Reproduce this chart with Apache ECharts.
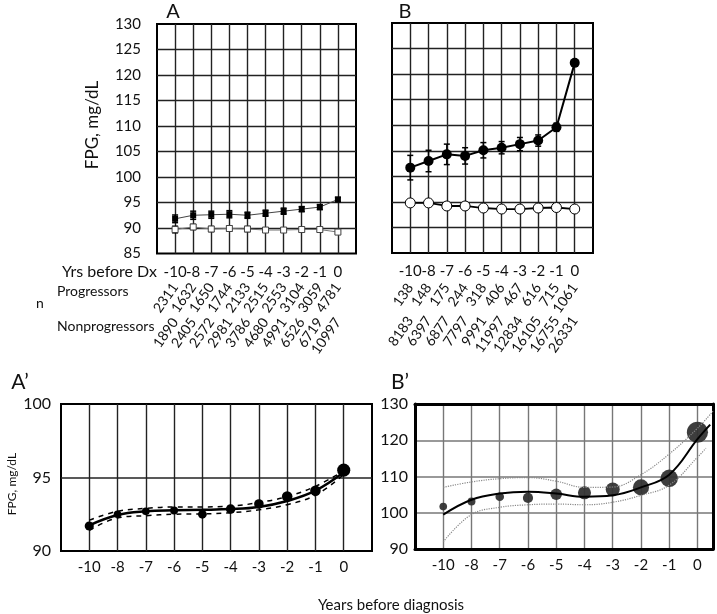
<!DOCTYPE html>
<html>
<head>
<meta charset="utf-8">
<script src="https://cdn.jsdelivr.net/npm/echarts@6/dist/echarts.min.js"></script>
<style>
  html, body { margin: 0; padding: 0; background: #fff; }
  #main { width: 717px; height: 614px; }
</style>
</head>
<body>
<div id="main"></div>
<script>
// categories (years before diagnosis)
var years = ['-10', '-8', '-7', '-6', '-5', '-4', '-3', '-2', '-1', '0'];

// panel A (all subjects)
var progA = [91.8, 92.5, 92.6, 92.7, 92.5, 92.9, 93.3, 93.7, 94.1, 95.6];
var progA_se = [0.75, 0.8, 0.7, 0.7, 0.6, 0.6, 0.6, 0.5, 0.5, 0.4];
var nonA = [89.7, 90.2, 89.8, 89.9, 89.8, 89.6, 89.6, 89.7, 89.7, 89.2];
var nonA_se = [0.65, 0.5, 0.5, 0.5, 0.5, 0.4, 0.4, 0.4, 0.4, 0.3];
var nProgA = [2311, 1632, 1650, 1744, 2133, 2515, 2553, 3104, 3059, 4781];
var nNonA = [1890, 2405, 2572, 2981, 3786, 4680, 4991, 6526, 6719, 10997];

// panel B
var progB = [101.7, 103.0, 104.3, 104.0, 105.1, 105.6, 106.3, 107.0, 109.6, 122.2];
var progB_se = [2.4, 2.1, 2.0, 1.6, 1.5, 1.2, 1.3, 1.1, 0.8, 0.6];
var nonB = [94.8, 94.8, 94.2, 94.2, 93.8, 93.6, 93.6, 93.8, 93.9, 93.6];
var nProgB = [138, 148, 175, 244, 318, 406, 467, 616, 715, 1061];
var nNonB = [8183, 6397, 6877, 7797, 9991, 11997, 12834, 16105, 16755, 26331];

// panel A' (points and fitted curve with band)
var ptsA2 = [91.7, 92.5, 92.7, 92.75, 92.5, 92.85, 93.2, 93.7, 94.1, 95.5];
var fitA2 = [91.75, 92.45, 92.7, 92.77, 92.8, 92.85, 93.0, 93.4, 94.1, 95.35];
var upA2 = [92.1, 92.7, 92.9, 93.0, 93.0, 93.05, 93.3, 93.7, 94.4, 95.45];
var loA2 = [91.4, 92.25, 92.4, 92.5, 92.52, 92.6, 92.8, 93.15, 93.8, 95.2];

// panel B' (curve read at each year, plus the piece past year 0)
var ptsB2 = [101.7, 103.1, 104.4, 104.1, 105.1, 105.5, 106.4, 107.0, 109.5, 122.2];
var fitB2 = [99.5, 103.6, 105.3, 105.8, 105.3, 104.4, 104.8, 107.0, 110.5, 120.3, 124.3];
var upB2 = [107.0, 108.5, 109.4, 109.7, 108.7, 107.0, 107.1, 110.5, 116.2, 123.3, 128.0];
var loB2 = [92.0, 99.5, 101.5, 102.2, 102.4, 102.2, 102.9, 104.8, 107.6, 115.3, 117.8];
var tailX = [10.45, 10.55, 10.3]; // x of last curve point for fit, upper, lower

var chart = echarts.init(document.getElementById('main'));
var FONT = 'Lato';

function pos(arr) {
  return arr.map(function (v, i) { return [i + 1, v]; });
}
function withTail(arr, tx) {
  return arr.map(function (v, i) { return [i < 10 ? i + 1 : tx, v]; });
}
function bars(mean, se) {
  return mean.map(function (v, i) { return [i + 1, v - se[i], v + se[i]]; });
}
function labelFrom(list) {
  return function (v) {
    var i = Math.round(v);
    if (Math.abs(v - i) > 1e-6 || i < 1 || i > 10) return '';
    return String(list[i - 1]);
  };
}

function errorBar(params, api) {
  var x = api.value(0);
  var top = api.coord([x, api.value(2)]);
  var bot = api.coord([x, api.value(1)]);
  var w = 3;
  var st = { stroke: '#000', lineWidth: 1.5 };
  return {
    type: 'group',
    children: [
      { type: 'line', shape: { x1: top[0], y1: top[1], x2: bot[0], y2: bot[1] }, style: st },
      { type: 'line', shape: { x1: top[0] - w, y1: top[1], x2: top[0] + w, y2: top[1] }, style: st },
      { type: 'line', shape: { x1: bot[0] - w, y1: bot[1], x2: bot[0] + w, y2: bot[1] }, style: st }
    ]
  };
}

function split(color, width) {
  return { show: true, showMinLine: false, showMaxLine: false, lineStyle: { color: color, width: width } };
}
function xMain(grid, max, fs, margin, color) {
  return {
    type: 'value', gridIndex: grid, min: 0, max: max, interval: 1,
    axisLine: { show: false }, axisTick: { show: false },
    splitLine: split(color, 1.4),
    axisLabel: { show: true, formatter: labelFrom(years), color: '#111', fontFamily: FONT, fontSize: fs, margin: margin }
  };
}
function xCount(grid, list, margin) {
  return {
    type: 'value', gridIndex: grid, min: 0, max: 11, interval: 1, position: 'bottom',
    axisLine: { show: false }, axisTick: { show: false }, splitLine: { show: false },
    axisLabel: { formatter: labelFrom(list), rotate: 55, color: '#111', fontFamily: FONT, fontSize: 14, margin: margin }
  };
}
// plain frame edge for panel B' (drawn over its grey grid lines)
function edgeX(grid, where) {
  return {
    type: 'value', gridIndex: grid, position: where, min: 0, max: 10.55,
    axisLine: { show: true, onZero: false, lineStyle: { color: '#000', width: 3 } },
    axisTick: { show: false }, axisLabel: { show: false }, splitLine: { show: false }
  };
}
function edgeY(grid, where) {
  return {
    type: 'value', gridIndex: grid, position: where, min: 90, max: 130,
    axisLine: { show: true, onZero: false, lineStyle: { color: '#000', width: 3 } },
    axisTick: { show: false }, axisLabel: { show: false }, splitLine: { show: false }
  };
}

var option = {
  animation: false,
  backgroundColor: '#fff',
  grid: [
    { left: 157, top: 24, width: 199, height: 229.5, show: true, borderColor: '#000', borderWidth: 2 },
    { left: 392, top: 23, width: 201, height: 230, show: true, borderColor: '#000', borderWidth: 2 },
    { left: 61, top: 404, width: 311, height: 147, show: true, borderColor: '#000', borderWidth: 2 },
    { left: 415, top: 404, width: 298, height: 145, show: false }
  ],
  xAxis: [
    xMain(0, 11, 15, 11, '#222'),
    xCount(0, nProgA, 31),
    xCount(0, nNonA, 66),
    xMain(1, 11, 15, 11, '#222'),
    xCount(1, nProgB, 32),
    xCount(1, nNonB, 65),
    xMain(2, 11, 15, 9, '#222'),
    xMain(3, 10.55, 15, 9, '#777'),
    edgeX(3, 'bottom'),
    edgeX(3, 'top')
  ],
  yAxis: [
    {
      type: 'value', gridIndex: 0, min: 85, max: 130, interval: 5,
      axisLine: { show: false }, axisTick: { show: false },
      splitLine: split('#222', 1.4),
      axisLabel: { color: '#111', fontFamily: FONT, fontSize: 15, margin: 16 }
    },
    {
      type: 'value', gridIndex: 1, min: 85, max: 130, interval: 5,
      axisLine: { show: false }, axisTick: { show: false },
      splitLine: split('#222', 1.4),
      axisLabel: { show: false }
    },
    {
      type: 'value', gridIndex: 2, min: 90, max: 100, interval: 5,
      axisLine: { show: false }, axisTick: { show: false },
      splitLine: split('#222', 1.5),
      axisLabel: { color: '#111', fontFamily: FONT, fontSize: 16, margin: 10 }
    },
    {
      type: 'value', gridIndex: 3, min: 90, max: 130, interval: 10,
      axisLine: { show: false }, axisTick: { show: false },
      splitLine: split('#777', 1.5),
      axisLabel: { color: '#111', fontFamily: FONT, fontSize: 16, margin: 7 }
    },
    edgeY(3, 'left'),
    edgeY(3, 'right')
  ],
  series: [
    // panel A
    { type: 'line', xAxisIndex: 0, yAxisIndex: 0, data: pos(nonA), symbol: 'rect', symbolSize: 6,
      itemStyle: { color: '#fff', borderColor: '#444', borderWidth: 1 }, lineStyle: { color: '#777', width: 1 } },
    { type: 'custom', xAxisIndex: 0, yAxisIndex: 0, data: bars(nonA, nonA_se), renderItem: errorBar, z: 1 },
    { type: 'line', xAxisIndex: 0, yAxisIndex: 0, data: pos(progA), symbol: 'rect', symbolSize: 6,
      itemStyle: { color: '#000' }, lineStyle: { color: '#444', width: 1 } },
    { type: 'custom', xAxisIndex: 0, yAxisIndex: 0, data: bars(progA, progA_se), renderItem: errorBar, z: 1 },
    // panel B
    { type: 'line', xAxisIndex: 3, yAxisIndex: 1, data: pos(nonB), symbol: 'circle', symbolSize: 10,
      itemStyle: { color: '#fff', borderColor: '#000', borderWidth: 1 }, lineStyle: { color: '#000', width: 1.8 } },
    { type: 'custom', xAxisIndex: 3, yAxisIndex: 1, data: bars(progB, progB_se), renderItem: errorBar, z: 1 },
    { type: 'line', xAxisIndex: 3, yAxisIndex: 1, data: pos(progB), symbol: 'circle', symbolSize: 10,
      itemStyle: { color: '#000' }, lineStyle: { color: '#000', width: 2 } },
    // panel A'
    { type: 'line', xAxisIndex: 6, yAxisIndex: 2, data: pos(upA2), smooth: 0.4, symbol: 'none',
      lineStyle: { color: '#000', width: 1.5, type: [5, 5] } },
    { type: 'line', xAxisIndex: 6, yAxisIndex: 2, data: pos(loA2), smooth: 0.4, symbol: 'none',
      lineStyle: { color: '#000', width: 1.5, type: [5, 5] } },
    { type: 'line', xAxisIndex: 6, yAxisIndex: 2, data: pos(fitA2), smooth: 0.4, symbol: 'none',
      lineStyle: { color: '#000', width: 2.5 } },
    { type: 'scatter', xAxisIndex: 6, yAxisIndex: 2, data: pos(ptsA2),
      symbolSize: function (v, p) { return 0.19 * Math.sqrt(nProgA[p.dataIndex]); },
      itemStyle: { color: '#000', opacity: 1 } },
    // panel B'
    { type: 'line', xAxisIndex: 7, yAxisIndex: 3, data: withTail(upB2, tailX[1]), smooth: 0.4, symbol: 'none',
      lineStyle: { color: '#888', width: 1.2, type: 'dotted' } },
    { type: 'line', xAxisIndex: 7, yAxisIndex: 3, data: withTail(loB2, tailX[2]), smooth: 0.4, symbol: 'none',
      lineStyle: { color: '#888', width: 1.2, type: 'dotted' } },
    { type: 'line', xAxisIndex: 7, yAxisIndex: 3, data: withTail(fitB2, tailX[0]), smooth: 0.4, symbol: 'none',
      lineStyle: { color: '#000', width: 2 } },
    { type: 'scatter', xAxisIndex: 7, yAxisIndex: 3, data: pos(ptsB2),
      symbolSize: function (v, p) { return 0.65 * Math.sqrt(nProgB[p.dataIndex]); },
      itemStyle: { color: '#333', opacity: 0.95 } }
  ],
  graphic: [
    { type: 'text', x: 173, y: 12, style: { text: 'A', font: '20px Lato', fill: '#111', textAlign: 'center', textVerticalAlign: 'middle' } },
    { type: 'text', x: 405, y: 12, style: { text: 'B', font: '20px Lato', fill: '#111', textAlign: 'center', textVerticalAlign: 'middle' } },
    { type: 'text', x: 20, y: 382, style: { text: 'A\u2019', font: '21px Lato', fill: '#111', textAlign: 'center', textVerticalAlign: 'middle' } },
    { type: 'text', x: 400, y: 382, style: { text: 'B\u2019', font: '21px Lato', fill: '#111', textAlign: 'center', textVerticalAlign: 'middle' } },
    { type: 'text', x: 93, y: 125, rotation: Math.PI / 2, style: { text: 'FPG, mg/dL', font: '17px Lato', fill: '#111', textAlign: 'center', textVerticalAlign: 'middle' } },
    { type: 'text', x: 12, y: 484, rotation: Math.PI / 2, style: { text: 'FPG, mg/dL', font: '12px Lato', fill: '#111', textAlign: 'center', textVerticalAlign: 'middle' } },
    { type: 'text', x: 157, y: 272, style: { text: 'Yrs before Dx', font: '16px Lato', fill: '#111', textAlign: 'right', textVerticalAlign: 'middle' } },
    { type: 'text', x: 40, y: 303, style: { text: 'n', font: '14px Lato', fill: '#111', textAlign: 'center', textVerticalAlign: 'middle' } },
    { type: 'text', x: 57, y: 291, style: { text: 'Progressors', font: '14px Lato', fill: '#111', textAlign: 'left', textVerticalAlign: 'middle' } },
    { type: 'text', x: 57, y: 326, style: { text: 'Nonprogressors', font: '14px Lato', fill: '#111', textAlign: 'left', textVerticalAlign: 'middle' } },
    { type: 'text', x: 391, y: 605, style: { text: 'Years before diagnosis', font: '15px Lato', fill: '#111', textAlign: 'center', textVerticalAlign: 'middle' } }
  ]
};
chart.setOption(option);
</script>
</body>
</html>
